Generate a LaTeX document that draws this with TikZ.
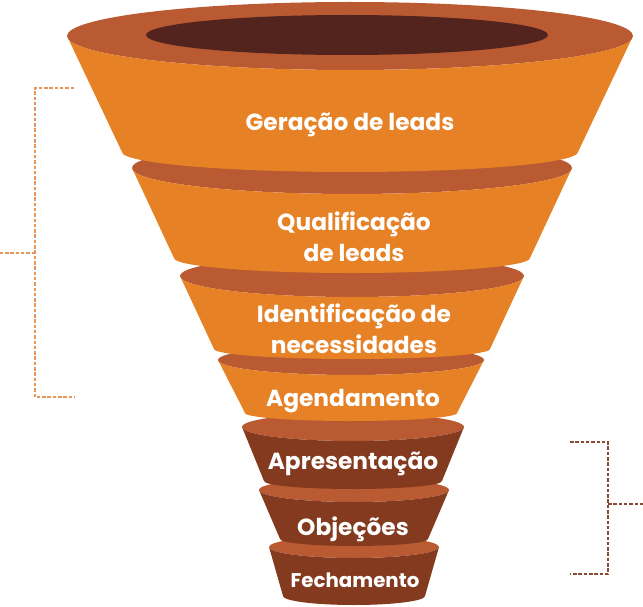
\documentclass[tikz,border=0pt]{standalone}
\usepackage{fontspec}
\setmainfont{Poppins}
\usepackage{xcolor}
\usepackage{tikz}
\usetikzlibrary{positioning,calc}

\definecolor{funnelorange}{HTML}{E68125}
\definecolor{funnelrim}{HTML}{B95A33}
\definecolor{funnelbrown}{HTML}{843A1F}
\definecolor{funnelhole}{HTML}{53231D}
\definecolor{bracketorange}{HTML}{E8955A}
\definecolor{bracketbrown}{HTML}{8A4A38}

\begin{document}
\begin{tikzpicture}[x=1pt, y=1pt,
    lbl/.style={text=white, font=\fontsize{23.3}{31}\selectfont\bfseries, align=center, inner sep=0pt},
    bracket/.style={line width=1.4pt, dash pattern=on 3.5pt off 1.8pt}]
    \useasboundingbox (0,0) rectangle (643,-607);
    % funnel parts, lowest first: cx/rim y/rim rx/rim ry/bottom y/bottom half width/depth/body
    \foreach \cx/\cy/\rx/\ry/\yb/\hw/\d/\body in {
        354/547/85/11/596/71/9/funnelbrown,
        354/490/95/12/539/74/7/funnelbrown,
        353/427/111/14/481/89/8/funnelbrown,
        351/360/133/15/413/106/8/funnelorange,
        352/276/172/21/349/138/10/funnelorange,
        352/168/220/26/258/178/15/funnelorange,
        350/36/283/34/152/228/20/funnelorange} {
      \fill[funnelrim] (\cx,-\cy) ellipse[x radius=\rx, y radius=\ry];
      \fill[\body] ({\cx-\rx},-\cy) -- ({\cx-\hw},-\yb)
        arc[start angle=180, end angle=360, x radius=\hw, y radius=\d]
        -- ({\cx+\rx},-\cy)
        arc[start angle=0, end angle=-180, x radius=\rx, y radius=\ry] -- cycle;
    }
    \fill[funnelhole] (347,-35) ellipse[x radius=201, y radius=20];

    \node[lbl] (gen)  at (350,-125) {Geração de leads};
    \node[lbl] (qual) at (354,-237) {Qualificação\\de leads};
    \node[lbl] (iden) at (354,-329) {Identificação de\\necessidades};
    \node[lbl] (agen) at (353,-401) {Agendamento};
    \node[lbl] (apre) at (353,-464) {Apresentação};
    \node[lbl] (obje) at (353,-529) {Objeções};
    \node[lbl, font=\fontsize{19.8}{24}\selectfont\bfseries] (fech) at (355,-580) {Fechamento};

    % brackets
    \coordinate (lt) at (74,-88);
    \coordinate (lb) at (74,-397);
    \coordinate (lm) at (35,-253);
    \coordinate (lo) at (0,-253);
    \draw[bracket, draw=bracketorange] (lt) -| (lm) |- (lb);
    \draw[bracket, draw=bracketorange] (lm) -- (lo);
    \coordinate (rt) at (570,-442);
    \coordinate (rb) at (570,-574);
    \coordinate (rm) at (608,-504);
    \coordinate (ro) at (643,-504);
    \draw[bracket, draw=bracketbrown] (rt) -| (rm) |- (rb);
    \draw[bracket, draw=bracketbrown] (rm) -- (ro);
\end{tikzpicture}
\end{document}
